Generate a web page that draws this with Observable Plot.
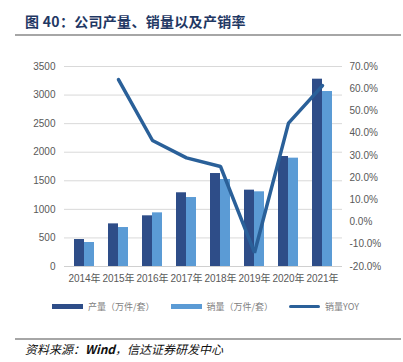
<!DOCTYPE html>
<html><head><meta charset="utf-8">
<script src="https://cdn.jsdelivr.net/npm/d3@7"></script>
<script src="https://cdn.jsdelivr.net/npm/@observablehq/plot@0.6"></script>
<style>
body{margin:0;background:#fff;}
#chart{position:relative;width:403px;height:362px;overflow:hidden;font-family:"Liberation Sans","Noto Sans CJK SC",sans-serif;background:#fff;}
#title{position:absolute;left:25px;top:11px;font-family:"Noto Sans CJK SC",sans-serif;font-weight:bold;font-size:14px;color:#1f3864;line-height:20px;white-space:nowrap;letter-spacing:0.3px;}
.rule{position:absolute;left:15px;width:386px;height:2px;background:#a6a6a6;}
#bars,#line{position:absolute;left:0;top:0;}
#line{pointer-events:none;}
#legend{position:absolute;left:0;width:403px;top:298px;height:16px;display:flex;justify-content:center;align-items:center;font-family:"Noto Sans CJK SC",sans-serif;font-size:9px;color:#7f7f7f;padding-left:8px;box-sizing:border-box;}
.item{display:flex;align-items:center;margin:0 8px;}
.sw{display:inline-block;width:31px;margin-right:5px;}
#source{position:absolute;left:25px;top:341px;font-family:"Noto Sans CJK SC",sans-serif;font-style:italic;font-size:12px;color:#111;line-height:16px;white-space:nowrap;}
</style></head><body>
<div id="chart">
  <div id="title">图 40：公司产量、销量以及产销率</div>
  <div class="rule" style="top:34px"></div>
  <div id="bars"></div>
  <div id="line"></div>
  <div id="legend"></div>
  <div class="rule" style="top:338px;height:1.5px"></div>
  <div id="source">资料来源：<b>Wind</b>，信达证券研发中心</div>
</div>
<script>
const years = ["2014年","2015年","2016年","2017年","2018年","2019年","2020年","2021年"];
const production = [472, 746, 887, 1290, 1627, 1336, 1925, 3278];
const sales = [420, 682, 939, 1207, 1522, 1307, 1896, 3062];
const salesYoY = [null, 64.1, 36.7, 28.9, 25.0, -13.8, 44.5, 61.4];
const leftTicks = [0, 500, 1000, 1500, 2000, 2500, 3000, 3500];
const rightTicks = [-20, -10, 0, 10, 20, 30, 40, 50, 60, 70];
const seriesNames = ["产量（万件/套）", "销量（万件/套）", "销量YOY"];
const seriesColors = ["#2e4d88", "#5b9bd5", "#2a6099"];

const rows = years.map((y, i) => ({year: y, production: production[i], sales: sales[i], yoy: salesYoY[i]}));
const lineRows = rows.filter(d => d.yoy != null);

const W = 403, H = 300;
const common = {
  width: W, height: H,
  marginTop: 66, marginBottom: 34, marginLeft: 64, marginRight: 61,
  style: {fontSize: "10px", fontFamily: "'Liberation Sans','Noto Sans CJK SC',sans-serif", color: "#595959", background: "transparent"}
};
const xScale = {type: "band", domain: years, paddingInner: 0.424, paddingOuter: 0.212};

const barsPlot = Plot.plot({
  ...common,
  x: {...xScale, label: null},
  y: {domain: [0, 3500], label: null},
  marks: [
    Plot.gridY(leftTicks, {stroke: "#d9d9d9", strokeOpacity: 1, strokeWidth: 1}),
    Plot.ruleY([0], {stroke: "#d0d0d0", strokeWidth: 1}),
    Plot.barY(rows, {x: "year", y: "production", fill: seriesColors[0], insetRight: 10, insetLeft: 0}),
    Plot.barY(rows, {x: "year", y: "sales", fill: seriesColors[1], insetLeft: 10, insetRight: 0}),
    Plot.axisY(leftTicks, {anchor: "left", tickSize: 0, tickPadding: 9, label: null, tickFormat: d => String(d)}),
    Plot.axisX({anchor: "bottom", tickSize: 0, tickPadding: 8, label: null})
  ]
});
document.getElementById("bars").appendChild(barsPlot);

const linePlot = Plot.plot({
  ...common,
  x: {...xScale, axis: null, label: null},
  y: {domain: [-20, 70], label: null},
  marks: [
    Plot.line(lineRows, {x: "year", y: "yoy", stroke: seriesColors[2], strokeWidth: 3.5, strokeLinejoin: "miter"}),
    Plot.axisY(rightTicks, {anchor: "right", tickSize: 0, tickPadding: 7, label: null, tickFormat: d => d.toFixed(1) + "%"})
  ]
});
document.getElementById("line").appendChild(linePlot);

const legend = document.getElementById("legend");
seriesNames.forEach((name, i) => {
  const item = document.createElement("div");
  item.className = "item";
  const sw = document.createElement("span");
  sw.className = "sw";
  sw.style.background = seriesColors[i];
  sw.style.height = i === 2 ? "3px" : "5px";
  if (i === 2) sw.style.borderRadius = "2px";
  const t = document.createElement("span");
  t.textContent = name;
  item.appendChild(sw); item.appendChild(t);
  legend.appendChild(item);
});
</script>
</body></html>
